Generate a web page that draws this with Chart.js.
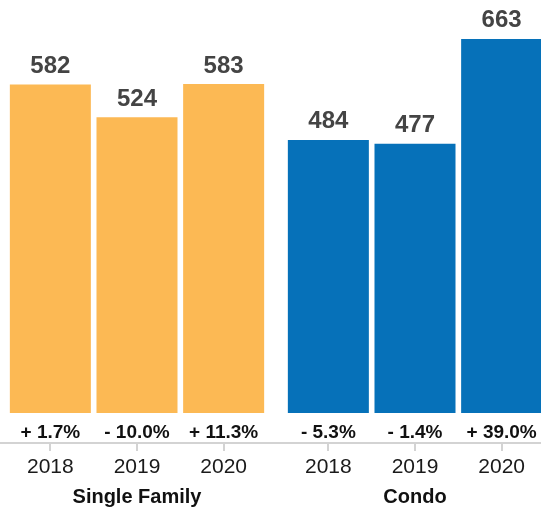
<!DOCTYPE html>
<html>
<head>
<meta charset="utf-8">
<script src="https://cdn.jsdelivr.net/npm/chart.js@4"></script>
<style>
html,body{margin:0;padding:0;background:#fff;overflow:hidden;width:541px;height:510px;}
#wrap{position:absolute;left:-2px;top:0;width:556px;height:510px;}
</style>
</head>
<body>
<div id="wrap"><canvas id="c"></canvas></div>
<script>
const groups = ['Single Family', 'Condo'];
const years = ['2018', '2019', '2020'];
const singleFamily = [582, 524, 583];
const condo = [484, 477, 663];
const singleFamilyChange = [1.7, -10.0, 11.3];
const condoChange = [-5.3, -1.4, 39.0];
const groupColors = ['#FCB954', '#0671B9'];

const seriesByGroup = [singleFamily, condo];
const changeByGroup = [singleFamilyChange, condoChange];

function fmtChange(v){
  return (v < 0 ? '- ' : '+ ') + Math.abs(v).toFixed(1) + '%';
}

const datasets = years.map((yr, i) => ({
  label: yr,
  data: seriesByGroup.map(s => s[i]),
  backgroundColor: groupColors,
  borderWidth: 0,
  categoryPercentage: 0.935,
  barPercentage: 0.935
}));

const FONT = '"Liberation Sans", Arial, Helvetica, sans-serif';

const labelPlugin = {
  id: 'labels',
  afterDraw(chart){
    const ctx = chart.ctx;
    const bottom = chart.chartArea.bottom;
    const xs = chart.scales.x;
    ctx.save();
    ctx.textAlign = 'center';
    ctx.textBaseline = 'alphabetic';
    chart.data.datasets.forEach((ds, i) => {
      const meta = chart.getDatasetMeta(i);
      meta.data.forEach((bar, j) => {
        ctx.fillStyle = '#444444';
        ctx.font = 'bold 24px ' + FONT;
        ctx.fillText(String(ds.data[j]), bar.x, bar.y - 11.5);
        ctx.fillStyle = '#111111';
        ctx.font = 'bold 19px ' + FONT;
        ctx.fillText(fmtChange(changeByGroup[j][i]), bar.x, bottom - 5);
        ctx.strokeStyle = '#d3d3d3';
        ctx.lineWidth = 2;
        ctx.beginPath();
        ctx.moveTo(Math.round(bar.x), bottom + 1);
        ctx.lineTo(Math.round(bar.x), bottom + 8);
        ctx.stroke();
        ctx.fillStyle = '#1a1a1a';
        ctx.font = '21px ' + FONT;
        ctx.fillText(ds.label, bar.x, bottom + 30);
      });
    });
    ctx.fillStyle = '#111111';
    ctx.font = 'bold 20px ' + FONT;
    groups.forEach((g, j) => {
      ctx.fillText(g, xs.getPixelForTick(j), bottom + 60);
    });
    ctx.restore();
  }
};

new Chart(document.getElementById('c'), {
  type: 'bar',
  data: { labels: groups, datasets: datasets },
  options: {
    responsive: true,
    maintainAspectRatio: false,
    animation: false,
    devicePixelRatio: 1,
    layout: { padding: { top: 18, left: 0, right: 0, bottom: 0 } },
    plugins: { legend: { display: false }, tooltip: { enabled: false } },
    scales: {
      x: {
        display: true,
        grid: { display: false, drawTicks: false },
        border: { display: true, color: '#d3d3d3', width: 2 },
        ticks: { display: false },
        afterFit(scale){ scale.height = 67; }
      },
      y: {
        display: false,
        min: -53,
        max: 700
      }
    }
  },
  plugins: [labelPlugin]
});
</script>
</body>
</html>
